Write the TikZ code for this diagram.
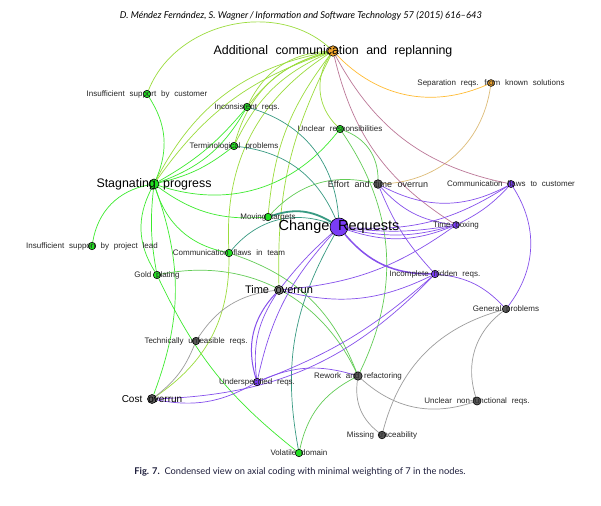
\documentclass[tikz,border=0pt]{standalone}
\usepackage{fontspec}
\setmainfont{Liberation Sans}
\newfontfamily\hdrfont{Lato}
\usetikzlibrary{backgrounds}
\definecolor{ngreen}{HTML}{22E022}
\definecolor{npurple}{HTML}{7A3CF5}
\definecolor{ngrey}{HTML}{5A5A5A}
\definecolor{norange}{HTML}{F2A62E}
\definecolor{egreen}{HTML}{3CEB2E}
\definecolor{eygreen}{HTML}{9BDC3C}
\definecolor{emgreen}{HTML}{62CC55}
\definecolor{eteal}{HTML}{389A82}
\definecolor{epurple}{HTML}{8650EC}
\definecolor{emauve}{HTML}{BC7898}
\definecolor{eorange}{HTML}{FFBB33}
\definecolor{etan}{HTML}{DDBB77}
\definecolor{egrey}{HTML}{9C9C9C}
\definecolor{capcol}{HTML}{1E1E3C}
\begin{document}
\begin{tikzpicture}[x=1pt,y=1pt,
  vtx/.style={circle,draw=black,line width=0.6pt,inner sep=0pt,minimum size=7.4pt},
  gn/.style={vtx,fill=ngreen},
  pn/.style={vtx,fill=npurple},
  kn/.style={vtx,fill=ngrey},
  onode/.style={vtx,fill=norange},
  lbl/.style={inner sep=0pt,execute at begin node={\spaceskip=0.6em\relax}},
  lblS/.style={lbl,font=\fontsize{8}{9}\selectfont,text=black!85},
  lblM/.style={lbl,font=\fontsize{9}{10}\selectfont,text=black!85},
  lblL/.style={lbl,font=\fontsize{11}{12}\selectfont},
  lblC/.style={lbl,font=\fontsize{10}{11}\selectfont},
  lblX/.style={lbl,font=\fontsize{12.4}{13}\selectfont},
  lblXX/.style={lbl,font=\fontsize{14.5}{15}\selectfont},
  edge/.style={line width=0.7pt},
  gE/.style={edge,draw=egreen},
  ygE/.style={edge,draw=eygreen},
  mgE/.style={edge,draw=emgreen},
  tE/.style={edge,draw=eteal},
  pE/.style={edge,draw=epurple},
  mvE/.style={edge,draw=emauve},
  oE/.style={edge,draw=eorange},
  tanE/.style={edge,draw=etan},
  kE/.style={edge,draw=egrey}
]
\useasboundingbox (0,0) rectangle (601,-505);

% vertices
\node[onode,minimum size=10.5pt] (AC) at (333,-51) {};
\node[onode,minimum size=6.8pt] (SEP) at (491,-83) {};
\node[gn] (ISC) at (147,-94) {};
\node[gn] (INC) at (247,-107) {};
\node[gn] (UR) at (340,-129) {};
\node[gn] (TP) at (234,-146) {};
\node[gn,minimum size=10pt] (SP) at (154,-184) {};
\node[kn,minimum size=8.6pt] (ETO) at (378,-184) {};
\node[pn,minimum size=7pt] (CFC) at (511,-184) {};
\node[gn] (MT) at (268,-217) {};
\node[pn,minimum size=18pt] (CR) at (339,-227) {};
\node[pn,minimum size=6.8pt] (TB) at (456,-225) {};
\node[gn] (ISP) at (92,-246) {};
\node[gn] (CFT) at (229,-253) {};
\node[gn] (GP) at (157,-275) {};
\node[kn,fill=ngrey!80,minimum size=9pt] (TO) at (279,-290) {};
\node[pn] (IHR) at (435,-274) {};
\node[kn] (GEN) at (506,-309) {};
\node[kn] (TUR) at (196,-341) {};
\node[pn] (UNR) at (257,-382) {};
\node[kn,minimum size=8.4pt] (RR) at (358,-376) {};
\node[kn,minimum size=9pt] (COST) at (152,-399) {};
\node[kn,minimum size=8pt] (UNF) at (477,-401) {};
\node[kn,minimum size=7.6pt] (MIS) at (382,-435) {};
\node[gn] (VD) at (299,-453) {};

% labels
\node[lblX] (ACl) at (AC) {Additional communication and replanning};
\node[lblS] (SEPl) at (SEP) {Separation reqs. from known solutions};
\node[lblS] (ISCl) at (ISC) {Insufficient support by customer};
\node[lblS] (INCl) at (INC) {Inconsistent reqs.};
\node[lblS] (URl) at (UR) {Unclear responsibilities};
\node[lblS] (TPl) at (TP) {Terminological problems};
\node[lblX] (SPl) at (SP) {Stagnating progress};
\node[lblM] (ETOl) at (ETO) {Effort and time overrun};
\node[lblS] (CFCl) at (CFC) {Communication flaws to customer};
\node[lblS] (MTl) at (MT) {Moving targets};
\node[lblXX] (CRl) at (CR) {Change Requests};
\node[lblS] (TBl) at (TB) {Time boxing};
\node[lblS] (ISPl) at (ISP) {Insufficient support by project lead};
\node[lblS] (CFTl) at (CFT) {Communication flaws in team};
\node[lblS] (GPl) at (GP) {Gold plating};
\node[lblL] (TOl) at (TO) {Time overrun};
\node[lblS] (IHRl) at (IHR) {Incomplete hidden reqs.};
\node[lblS] (GENl) at (GEN) {General problems};
\node[lblS] (TURl) at (TUR) {Technically unfeasible reqs.};
\node[lblS] (UNRl) at (UNR) {Underspecified reqs.};
\node[lblS] (RRl) at (RR) {Rework and refactoring};
\node[lblC] (COSTl) at (COST) {Cost overrun};
\node[lblS] (UNFl) at (UNF) {Unclear non-functional reqs.};
\node[lblS] (MISl) at (MIS) {Missing traceability};
\node[lblS] (VDl) at (VD) {Volatile domain};

\node[font=\hdrfont\itshape\fontsize{9.4}{10}\selectfont] (hdr) at (301,-16) {D. Méndez Fernández, S. Wagner\,/\,Information and Software Technology 57 (2015) 616–643};
\node[font=\hdrfont\fontsize{9.3}{10}\selectfont,text=capcol] (cap) at (300,-472) {\textbf{Fig. 7.}\ \ Condensed view on axial coding with minimal weighting of 7 in the nodes.};

\begin{pgfonlayer}{background}
\fill[white] (0,0) rectangle (601,-505);
% additional communication
\draw[ygE] (AC) to[bend right=55] (ISC);
\draw[oE] (AC) to[bend right=35] (SEP);
\draw[tanE] (SEP) to[bend left=40] (ETO);
\draw[mvE] (AC) to[bend right=25] (CFC);
\draw[mvE] (AC) to[bend right=22] (TB);
\draw[ygE] (AC) to[bend right=18] (INC);
\draw[ygE] (AC) to[bend right=30] (INC);
\draw[ygE] (AC) to[bend right=20] (TP);
\draw[ygE] (AC) to[bend right=30] (TP);
\draw[ygE] (AC) to[bend right=18] (SP);
\draw[ygE] (AC) to[bend right=26] (SP);
\draw[ygE] (AC) to[bend right=40] (UR);
\draw[ygE] (AC) to[bend right=30] (CFT);
\draw[ygE] (AC) to[bend right=16] (MT);
\draw[ygE] (AC) to[bend right=14] (TO);
% unclear responsibilities
\draw[mgE] (UR) to[bend left=35] (ETO);
\draw[mgE] (UR) to[bend left=30] (RR);
% stagnating progress
\draw[gE] (SP) to[bend right=35] (UR);
\draw[gE] (ISC) to[bend left=28] (SP);
\draw[gE] (SP) to[bend right=35] (ISP);
\draw[gE] (SP) to[bend right=30] (GP);
\draw[gE] (SP) to[bend right=8] (GP);
\draw[gE] (SP) to[bend left=20] (COST);
\draw[gE] (SP) to[bend right=20] (MT);
\draw[gE] (SP) to[bend right=30] (CFT);
\draw[gE] (SP) to[bend right=20] (INC);
\draw[gE] (SP) to[bend right=10] (INC);
\draw[gE] (SP) to[bend right=12] (TP);
\draw[gE] (GP) to[bend right=13] (VD);
% other green
\draw[mgE] (GP) to[bend left=38] (RR);
\draw[mgE] (CFT) to[bend left=25] (RR);
\draw[mgE] (VD) to[bend left=25] (RR);
\draw[ygE] (CFT) to[bend left=28] (COST);
\draw[mgE] (MT) to[bend left=30] (ETO);
% teal
\draw[tE] (INC) to[bend left=35] (CR);
\draw[tE] (TP) to[bend left=30] (CR);
\draw[tE] (CFT) to[bend left=35] (CR);
\draw[tE,line width=1.8pt] (MT) to[bend left=25] (CR);
\draw[tE] (CR) to[bend right=20] (VD);
% purple
\draw[pE] (CR) to[bend right=5] (TO);
\draw[pE] (CR) to[bend right=15] (UNR);
\draw[pE] (TO) to[bend right=20] (UNR);
\draw[pE,line width=1pt] (TO) to[bend right=30] (UNR);
\draw[pE] (CR) to[bend right=8] (TB);
\draw[pE] (CR) to[bend right=14] (TB);
\draw[pE] (CR) to[bend right=20] (TB);
\draw[pE] (CR) to[bend right=18] (CFC);
\draw[pE] (TB) to[bend right=10] (CFC);
\draw[pE] (ETO) to[bend right=28] (CFC);
\draw[pE] (ETO) to[bend right=20] (TB);
\draw[pE] (ETO) to[bend right=10] (IHR);
\draw[pE,line width=1.5pt] (CR) to[bend right=25] (IHR);
\draw[pE] (TB) to[bend left=15] (TO);
\draw[pE] (IHR) to[bend left=20] (TO);
\draw[pE] (IHR) to[bend left=10] (UNR);
\draw[pE] (IHR) to[bend left=22] (COST);
\draw[pE] (COST) to[bend right=20] (UNR);
\draw[pE] (UNR) to[bend left=20] (RR);
\draw[pE] (IHR) to[bend left=20] (GEN);
\draw[pE] (CFC) to[bend left=35] (GEN);
% grey
\draw[kE] (TO) to[bend right=25] (TUR);
\draw[kE] (TUR) to[bend left=15] (COST);
\draw[kE] (RR) to[bend right=30] (UNF);
\draw[kE] (RR) to[bend right=30] (MIS);
\draw[kE] (GEN) to[bend right=30] (MIS);
\draw[kE] (GEN) to[bend right=35] (UNF);
\end{pgfonlayer}
\end{tikzpicture}
\end{document}
